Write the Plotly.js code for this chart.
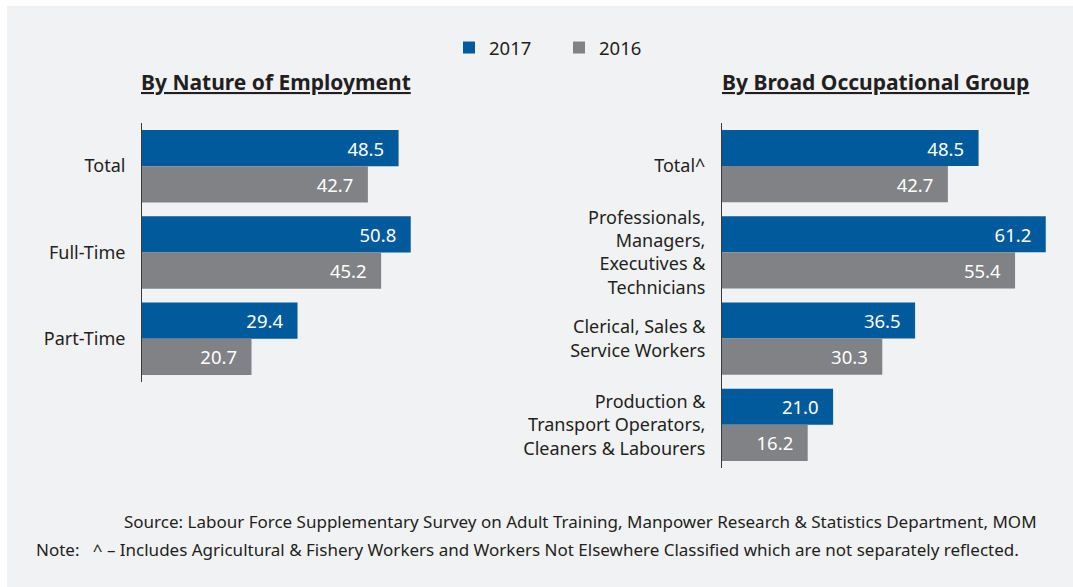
<!DOCTYPE html>
<html>
<head>
<meta charset="utf-8">
<script src="https://cdn.plot.ly/plotly-3.0.1.min.js"></script>
<style>
  html, body { margin: 0; padding: 0; background: #ffffff; }
  #chart { width: 1073px; height: 587px; }
</style>
</head>
<body>
<div id="chart"></div>
<script>
// values
var natureCats = ['Total', 'Full-Time', 'Part-Time'];
var nature2017 = [48.5, 50.8, 29.4];
var nature2016 = [42.7, 45.2, 20.7];

var occCats = [
	'Total^',
	'Professionals,<br>Managers,<br>Executives &<br>Technicians',
	'Clerical, Sales &<br>Service Workers',
	'Production &<br>Transport Operators,<br>Cleaners & Labourers'
];
var occ2017 = [48.5, 61.2, 36.5, 21.0];
var occ2016 = [42.7, 55.4, 30.3, 16.2];

var seriesNames = ['2017', '2016'];
var seriesColors = ['#005a9b', '#818285'];

var W = 1073, H = 587;
var fontFam = '"Noto Sans", "Open Sans", Arial, sans-serif';

function px(x) { return x / W; }
function py(y) { return 1 - y / H; }

function barTrace(cats, vals, k, xa, ya, showLeg) {
	return {
		type : 'bar',
		orientation : 'h',
		y : cats,
		x : vals,
		name : seriesNames[k],
		xaxis : xa,
		yaxis : ya,
		legendgroup : seriesNames[k],
		showlegend : showLeg,
		marker : { color : seriesColors[k], line : { width : 0 } },
		texttemplate : '%{x:.1f}\u00a0\u00a0\u200a',
		textposition : 'inside',
		insidetextanchor : 'end',
		constraintext : 'none',
		textfont : { family : fontFam, size : 18.5, color : '#ffffff' },
		hoverinfo : 'none'
	};
}

var data = [
	barTrace(natureCats, nature2017, 0, 'x', 'y', true),
	barTrace(natureCats, nature2016, 1, 'x', 'y', true),
	barTrace(occCats, occ2017, 0, 'x2', 'y2', false),
	barTrace(occCats, occ2016, 1, 'x2', 'y2', false)
];

var pxPerUnit = 5.29;
var yAxisBase = {
	autorange : 'reversed',
	showline : true,
	linecolor : '#3a3a3a',
	linewidth : 1,
	showgrid : false,
	zeroline : false,
	ticks : 'outside',
	ticklen : 12,
	tickcolor : 'rgba(0,0,0,0)',
	tickfont : { family : fontFam, size : 18, color : '#231f20' },
	fixedrange : true
};

var layout = {
	width : W,
	height : H,
	margin : { l : 0, r : 0, t : 0, b : 0 },
	paper_bgcolor : '#ffffff',
	plot_bgcolor : 'rgba(0,0,0,0)',
	barmode : 'group',
	bargap : 0.16,
	bargroupgap : 0,
	font : { family : fontFam, color : '#231f20' },
	showlegend : true,
	legend : {
		orientation : 'h',
		x : px(449),
		y : py(48),
		xanchor : 'left',
		yanchor : 'middle',
		font : { family : fontFam, size : 18.5, color : '#231f20' },
		bgcolor : 'rgba(0,0,0,0)',
		entrywidth : 65,
		entrywidthmode : 'pixels',
		traceorder : 'normal'
	},
	xaxis : {
		domain : [px(142), px(430)],
		range : [0, (430 - 142) / pxPerUnit],
		visible : false,
		fixedrange : true
	},
	xaxis2 : {
		domain : [px(722), px(1062)],
		range : [0, (1062 - 722) / pxPerUnit],
		visible : false,
		fixedrange : true
	},
	yaxis : Object.assign({}, yAxisBase, {
		domain : [py(382), py(123)],
		anchor : 'x'
	}),
	yaxis2 : Object.assign({}, yAxisBase, {
		domain : [py(468), py(123)],
		anchor : 'x2'
	}),
	shapes : [ {
		type : 'rect',
		xref : 'paper',
		yref : 'paper',
		x0 : px(7),
		x1 : 1,
		y0 : 0,
		y1 : py(6),
		fillcolor : '#f1f2f4',
		line : { width : 0 },
		layer : 'below'
	} ],
	annotations : [ {
		text : '<b><u>By Nature of Employment</u></b>',
		xref : 'paper', yref : 'paper',
		x : px(276), y : py(82),
		xanchor : 'center', yanchor : 'middle',
		showarrow : false,
		font : { family : fontFam, size : 21, color : '#231f20' }
	}, {
		text : '<b><u>By Broad Occupational Group</u></b>',
		xref : 'paper', yref : 'paper',
		x : px(875), y : py(82),
		xanchor : 'center', yanchor : 'middle',
		showarrow : false,
		font : { family : fontFam, size : 21, color : '#231f20' }
	}, {
		text : 'Source: Labour Force Supplementary Survey on Adult Training, Manpower Research &amp; Statistics Department, MOM',
		xref : 'paper', yref : 'paper',
		x : px(122), y : py(521),
		xanchor : 'left', yanchor : 'middle',
		showarrow : false,
		font : { family : fontFam, size : 17, color : '#231f20' }
	}, {
		text : 'Note:\u00a0\u00a0\u00a0^ \u2013 Includes Agricultural &amp; Fishery Workers and Workers Not Elsewhere Classified which are not separately reflected.',
		xref : 'paper', yref : 'paper',
		x : px(34), y : py(549),
		xanchor : 'left', yanchor : 'middle',
		showarrow : false,
		font : { family : fontFam, size : 17, color : '#231f20' }
	} ]
};

var config = { displayModeBar : false, staticPlot : true };

Plotly.newPlot(document.getElementById('chart'), data, layout, config);
</script>
</body>
</html>
